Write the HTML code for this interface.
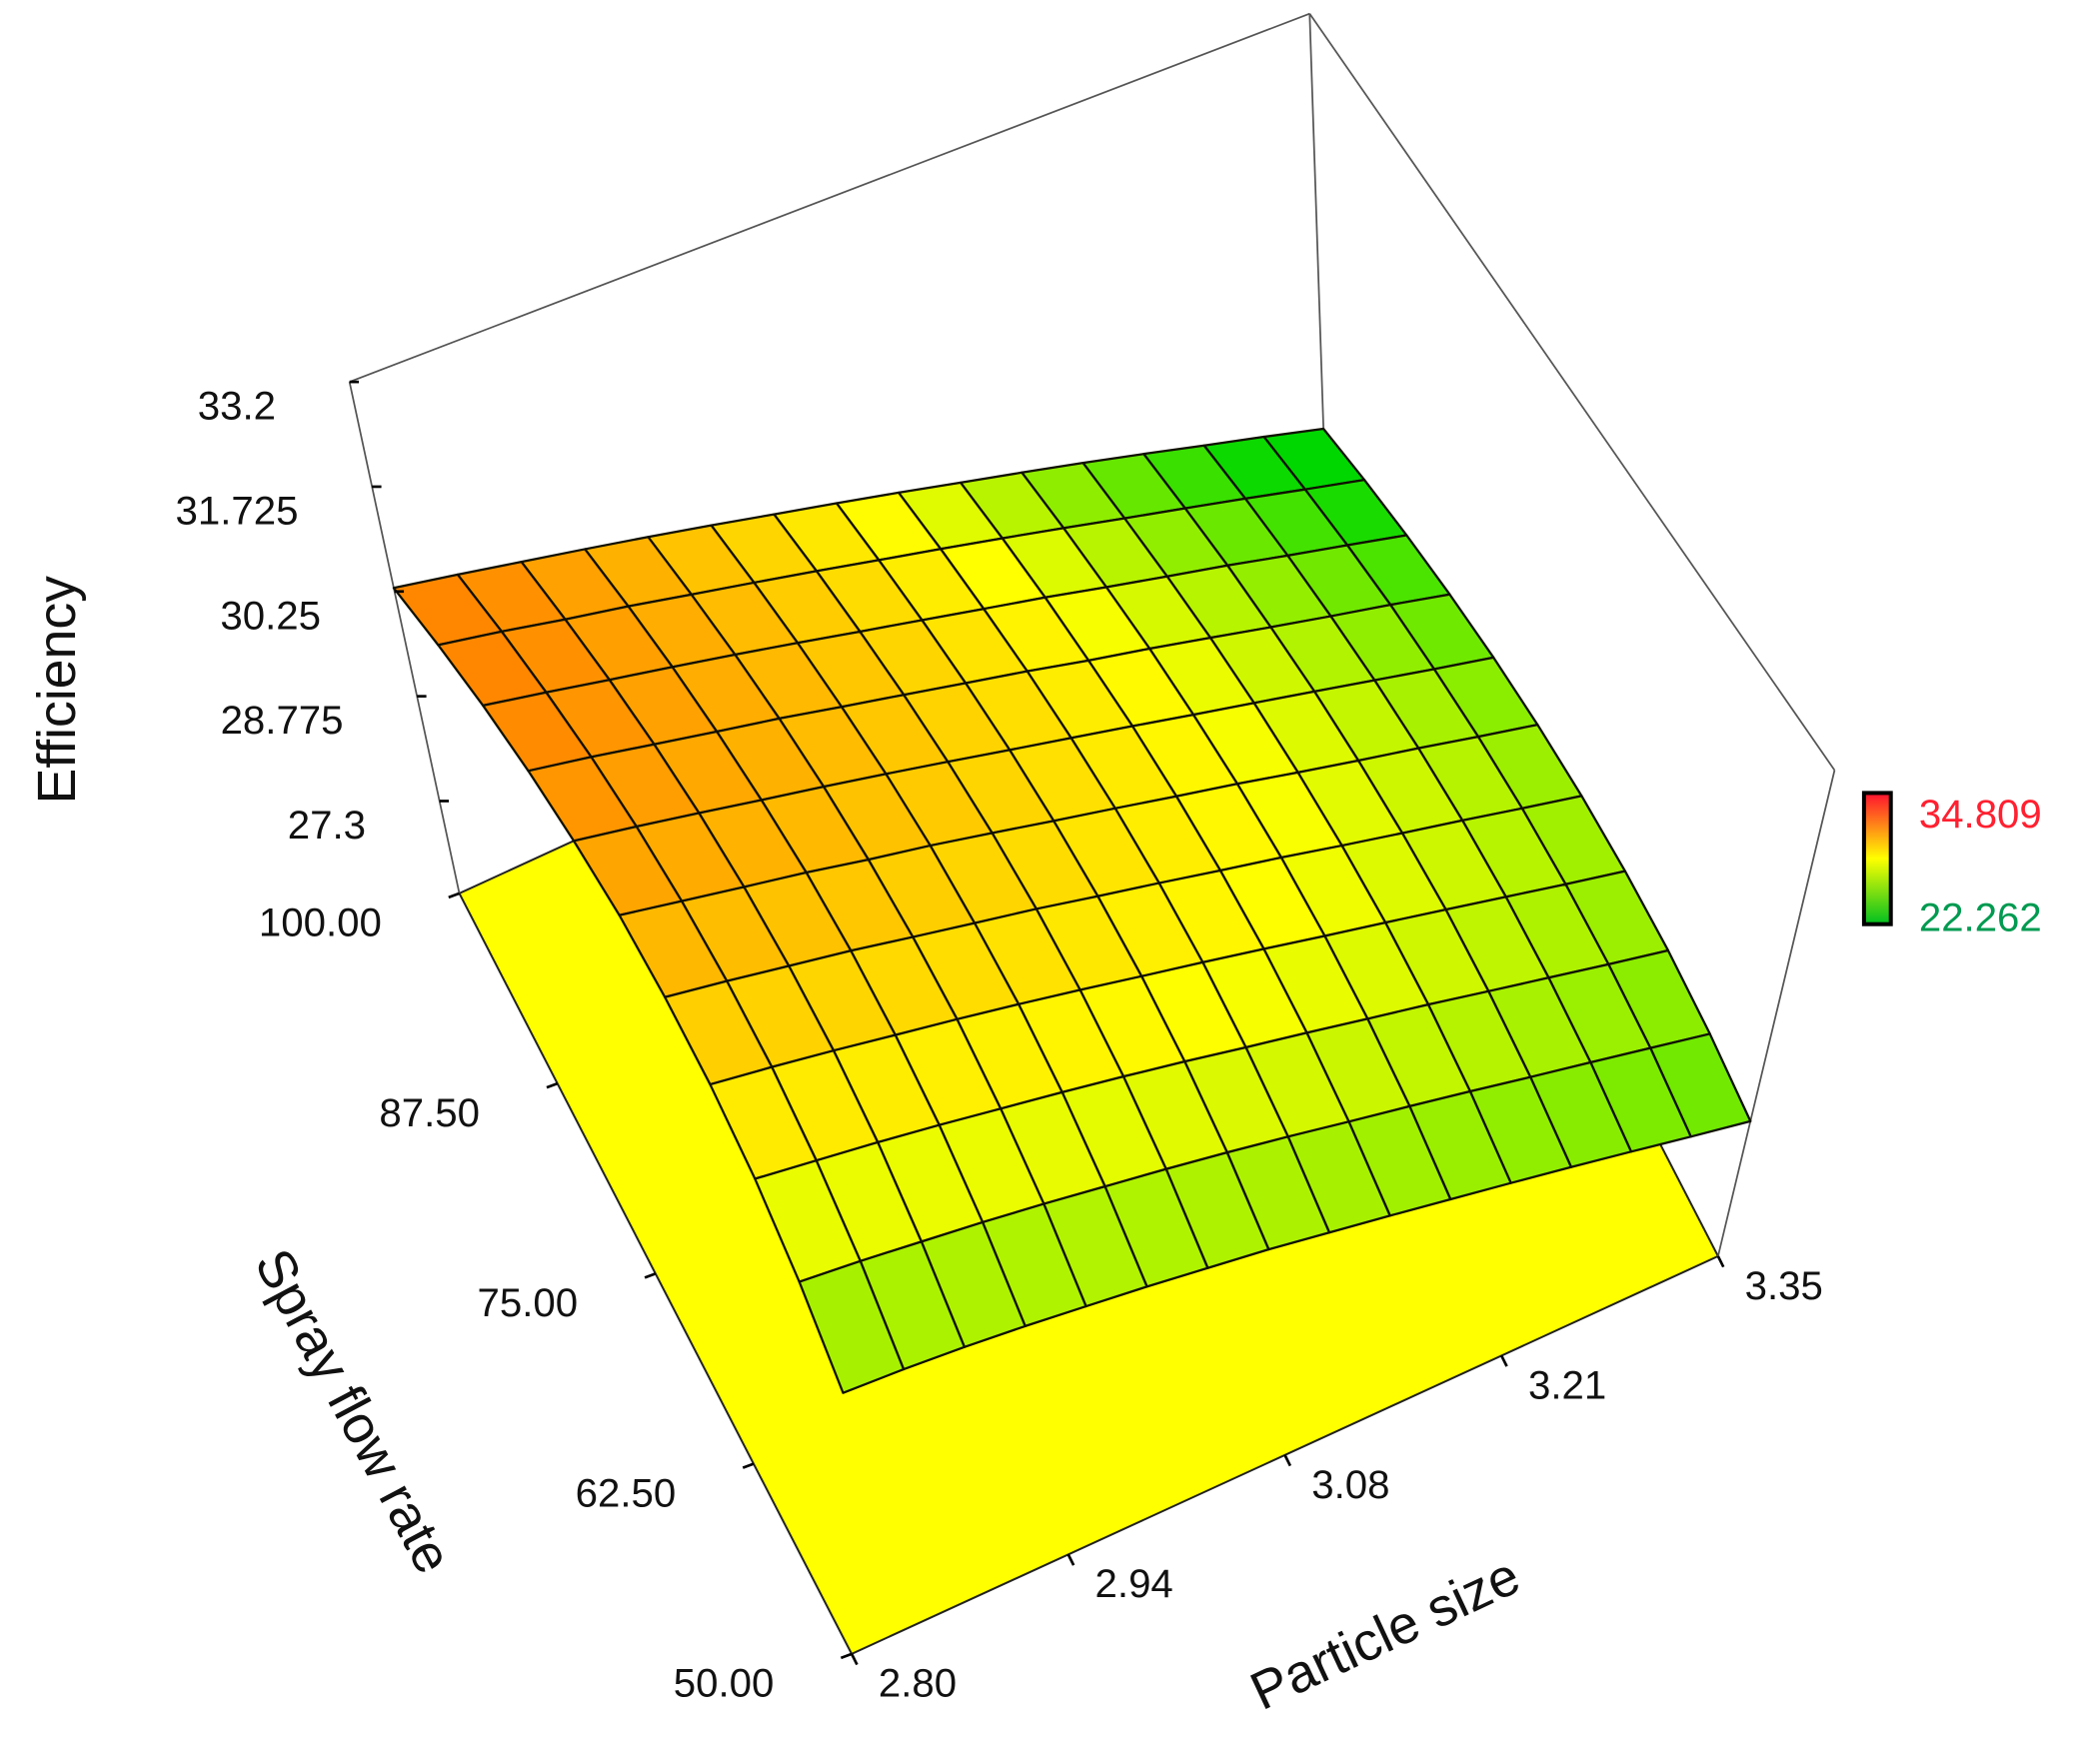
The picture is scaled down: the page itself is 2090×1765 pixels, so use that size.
<!DOCTYPE html>
<html><head><meta charset="utf-8"><style>
html,body{margin:0;padding:0;background:#fff;}
svg{display:block;font-family:"Liberation Sans",sans-serif;}
</style></head><body>
<svg id="chart" width="2090" height="1765" viewBox="0 0 1560 1317" xmlns="http://www.w3.org/2000/svg">
<g id="floor"></g>
<g id="box"></g>
<g id="surf"></g>
<g id="axes"></g>
<text x="0" y="0" transform="translate(56,515) rotate(-90)" text-anchor="middle" font-size="40" fill="#111">Efficiency</text>
<text x="0" y="0" transform="translate(252,1060) rotate(62)" text-anchor="middle" font-size="40" fill="#111">Spray flow rate</text>
<text x="0" y="0" transform="translate(1040,1232) rotate(-25)" text-anchor="middle" font-size="40" fill="#111">Particle size</text>
<g>
<defs><linearGradient id="cb" x1="0" y1="0" x2="0" y2="1"><stop offset="0" stop-color="#ff1030"/><stop offset="0.5" stop-color="#ffff00"/><stop offset="1" stop-color="#00c020"/></linearGradient></defs>
<rect x="1392" y="592" width="20" height="98" fill="url(#cb)" stroke="#000" stroke-width="3"/>
<text x="1433" y="618" font-size="30" fill="#ff2030">34.809</text>
<text x="1433" y="695" font-size="30" fill="#009a50">22.262</text>
</g>
</svg>
<script>
const pTicks=["2.80","2.94","3.08","3.21","3.35"];
const fTicks=["50.00","62.50","75.00","87.50","100.00"];
const zTicks=[33.2,31.725,30.25,28.775,27.3];
// rows: flow 50 -> 100 ; columns: particle size 2.80 -> 3.35
const zGrid=[
[28.20,28.24,28.27,28.29,28.30,28.31,28.31,28.31,28.29,28.27,28.24,28.21,28.17,28.12,28.06,28.00],
[28.60,28.62,28.63,28.64,28.64,28.63,28.62,28.60,28.57,28.53,28.49,28.44,28.38,28.32,28.25,28.17],
[28.96,28.96,28.96,28.95,28.93,28.91,28.88,28.84,28.79,28.74,28.68,28.62,28.54,28.46,28.37,28.28],
[29.27,29.26,29.24,29.21,29.18,29.14,29.09,29.03,28.97,28.90,28.82,28.74,28.65,28.55,28.44,28.33],
[29.54,29.51,29.47,29.43,29.37,29.31,29.25,29.17,29.09,29.00,28.91,28.80,28.69,28.58,28.45,28.32],
[29.78,29.72,29.66,29.60,29.52,29.45,29.36,29.26,29.16,29.05,28.94,28.81,28.68,28.55,28.40,28.25],
[29.96,29.89,29.81,29.72,29.63,29.53,29.42,29.30,29.18,29.05,28.91,28.77,28.62,28.46,28.29,28.12],
[30.11,30.02,29.91,29.80,29.69,29.56,29.43,29.29,29.15,28.99,28.84,28.67,28.49,28.31,28.13,27.93],
[30.22,30.10,29.97,29.84,29.70,29.55,29.39,29.23,29.06,28.89,28.70,28.51,28.32,28.11,27.90,27.68],
[30.28,30.14,29.98,29.83,29.66,29.49,29.31,29.12,28.93,28.73,28.52,28.30,28.08,27.85,27.61,27.37],
[30.30,30.13,29.95,29.77,29.58,29.38,29.17,28.96,28.74,28.51,28.28,28.04,27.79,27.53,27.27,27.00]];
const NS="http://www.w3.org/2000/svg";
const zMin=26.0,zMax=33.2;
const F={a:[636,1235],b:[1283,938],c:[990,370],d:[343,667]};
const T={a:[615,597],b:[1370,575],c:[978,10],d:[261,285]};
function bil(C,u,v){return [C.a[0]*(1-u)*(1-v)+C.b[0]*u*(1-v)+C.c[0]*u*v+C.d[0]*(1-u)*v,
C.a[1]*(1-u)*(1-v)+C.b[1]*u*(1-v)+C.c[1]*u*v+C.d[1]*(1-u)*v];}
function proj(u,v,z){const f=bil(F,u,v),t=bil(T,u,v),k=(z-zMin)/(zMax-zMin);return [f[0]+(t[0]-f[0])*k,f[1]+(t[1]-f[1])*k];}
function mk(tag,at,par){const e=document.createElementNS(NS,tag);for(const k in at)e.setAttribute(k,at[k]);par.appendChild(e);return e;}
function col(z){let r,g;
if(z<28.9){const s=Math.max(0,(z-27.5)/1.4);r=Math.round(255*s);g=Math.round(215+40*s);}
else{const s=Math.min(1,(z-28.9)/1.25);r=255;g=Math.round(255-120*s);}
return `rgb(${r},${g},0)`;}
const pts=a=>a.map(p=>p[0].toFixed(1)+","+p[1].toFixed(1)).join(" ");
const fl=document.getElementById('floor');
const fp=mk('polygon',{points:pts([F.a,F.b,F.c,F.d]),fill:'#ffff00',stroke:'#222','stroke-width':1.5},fl);


const bx=document.getElementById('box');
[[T.d,T.c],[T.c,T.b],[T.b,F.b],[T.c,F.c],[T.d,F.d]].forEach(s=>{
const l=mk('line',{x1:s[0][0],y1:s[0][1],x2:s[1][0],y2:s[1][1],stroke:'#555','stroke-width':1.3},bx);

});
const sg=document.getElementById('surf');
const nv=zGrid.length,nu=zGrid[0].length,cells=[];
for(let j=0;j<nv-1;j++)for(let i=0;i<nu-1;i++){
const u0=i/(nu-1),u1=(i+1)/(nu-1),v0=j/(nv-1),v1=(j+1)/(nv-1);
const q=[proj(u0,v0,zGrid[j][i]),proj(u1,v0,zGrid[j][i+1]),proj(u1,v1,zGrid[j+1][i+1]),proj(u0,v1,zGrid[j+1][i])];
const zm=(zGrid[j][i]+zGrid[j][i+1]+zGrid[j+1][i]+zGrid[j+1][i+1])/4;
const d=bil(F,(u0+u1)/2,(v0+v1)/2)[1];cells.push({q,zm,d});}
cells.sort((a,b)=>a.d-b.d);
cells.forEach(c=>{const p=mk('polygon',{points:pts(c.q),fill:col(c.zm),stroke:'#101000','stroke-width':1.7,'stroke-linejoin':'round'},sg);

});
const ax=document.getElementById('axes');
pTicks.forEach((t,i)=>{const u=i/(pTicks.length-1);const p=bil(F,u,0);
const tk=mk('line',{x1:p[0],y1:p[1],x2:p[0]+4,y2:p[1]+8,stroke:'#000','stroke-width':2},ax);


const e=mk('text',{x:p[0]+20,y:p[1]+32,'font-size':30,fill:'#111'},ax);e.textContent=t;

});
fTicks.forEach((t,i)=>{const v=i/(fTicks.length-1);const p=bil(F,0,v);
const tk=mk('line',{x1:p[0],y1:p[1],x2:p[0]-8,y2:p[1]+3,stroke:'#000','stroke-width':2},ax);


const e=mk('text',{x:p[0]-58,y:p[1]+32,'font-size':30,fill:'#111','text-anchor':'end'},ax);e.textContent=t;

});
zTicks.forEach(z=>{const p=proj(0,1,z);
const tk=mk('line',{x1:p[0],y1:p[1],x2:p[0]+7,y2:p[1],stroke:'#000','stroke-width':2},ax);


const e=mk('text',{x:p[0]-55,y:p[1]+28,'font-size':30,fill:'#111','text-anchor':'end'},ax);e.textContent=String(z);

});
</script>
</body></html>
